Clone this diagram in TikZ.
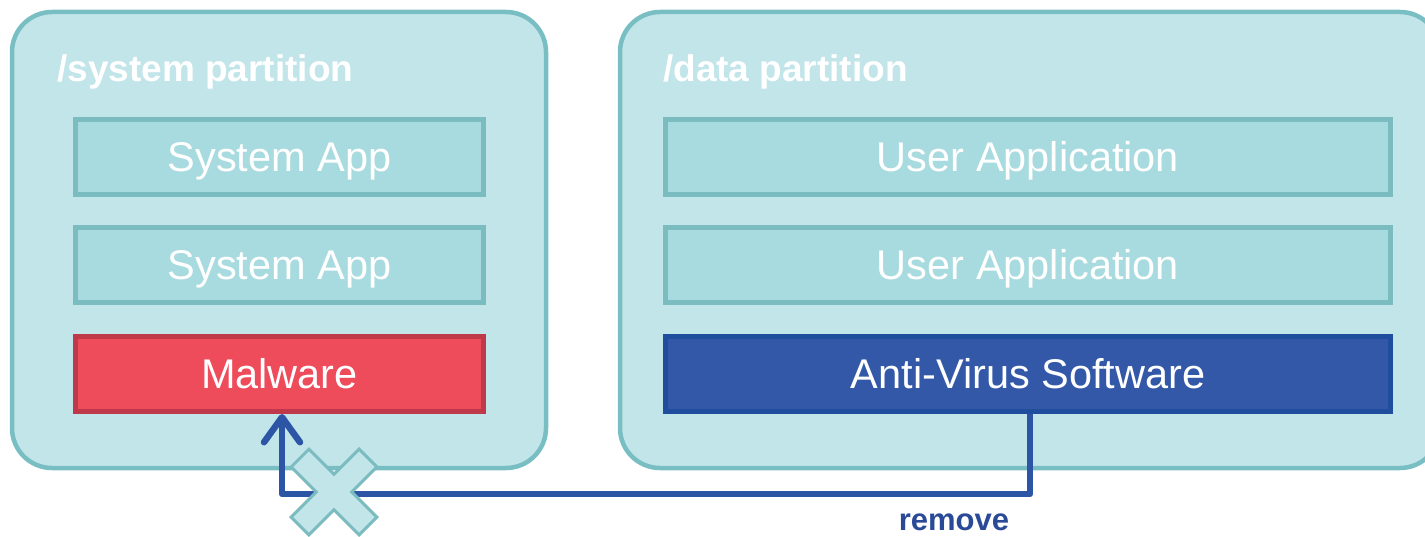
\documentclass[tikz,border=0pt]{standalone}
\usepackage{fontspec}
\setmainfont{Liberation Sans}
\usetikzlibrary{arrows.meta}
\definecolor{outerfill}{HTML}{C2E5EA}
\definecolor{outerline}{HTML}{79BEC3}
\definecolor{innerfill}{HTML}{A8DBDF}
\definecolor{innerline}{HTML}{7BBCC0}
\definecolor{malfill}{HTML}{EE4B5B}
\definecolor{malline}{HTML}{C0394A}
\definecolor{avfill}{HTML}{3358A8}
\definecolor{avline}{HTML}{1F4E9E}
\definecolor{connblue}{HTML}{2D55A6}
\definecolor{labelblue}{HTML}{2A4A98}
\begin{document}
\begin{tikzpicture}[x=1pt,y=-1pt,
  partition/.style={draw=outerline,fill=outerfill,line width=4.5pt,rounded corners=40pt},
  ptitle/.style={anchor=base west,text=white,font=\fontsize{37}{42}\selectfont\bfseries,inner sep=0pt},
  appbox/.style={draw=innerline,fill=innerfill,line width=5pt,minimum height=75pt,text=white,font=\fontsize{41.5}{46}\selectfont,inner sep=0pt,text height=29.5pt,text depth=0pt},
  sysbox/.style={appbox,minimum width=408pt},
  userbox/.style={appbox,minimum width=725pt},
  malbox/.style={sysbox,draw=malline,fill=malfill},
  avbox/.style={userbox,draw=avline,fill=avfill},
  conn/.style={draw=connblue,line width=6.5pt,line join=round,-{Straight Barb[length=25pt,width=36pt,round]}},
  xmark/.style={draw=innerline,fill=outerfill,line width=3pt,line join=miter}
]
\clip (0,0) rectangle (1425,537);
\fill[white] (0,0) rectangle (1425,537);
% partitions
\draw[partition] (12,12) rectangle (546,468);
\draw[partition] (620,12) rectangle (1440,468);
\node[ptitle] (st) at (57,82) {/system partition};
\node[ptitle] (dt) at (663,82) {/data partition};
% left boxes
\node[sysbox] (s1) at (279.5,157) {System App};
\node[sysbox] (s2) at (279.5,265) {System App};
\node[malbox] (mw) at (279.5,374) {Malware};
% right boxes
\node[userbox] (u1) at (1028,157) {User Application};
\node[userbox] (u2) at (1028,265) {User Application};
\node[avbox] (av) at (1028,374) {Anti-Virus Software};
% connector
\coordinate (turn) at (1030,494);
\draw[conn] (av.south -| turn) -- (turn) -| ([xshift=2.5pt]mw.south);
% cross mark
\begin{scope}[shift={(334,492)},rotate=45]
\draw[xmark] (-12.5,-48) -- (12.5,-48) -- (12.5,-12.5) -- (48,-12.5) -- (48,12.5) -- (12.5,12.5) -- (12.5,48) -- (-12.5,48) -- (-12.5,12.5) -- (-48,12.5) -- (-48,-12.5) -- (-12.5,-12.5) -- cycle;
\end{scope}
\node[text=labelblue,font=\fontsize{31}{36}\selectfont\bfseries,inner sep=0pt] (rm) at (954,522) {remove};
\end{tikzpicture}
\end{document}
